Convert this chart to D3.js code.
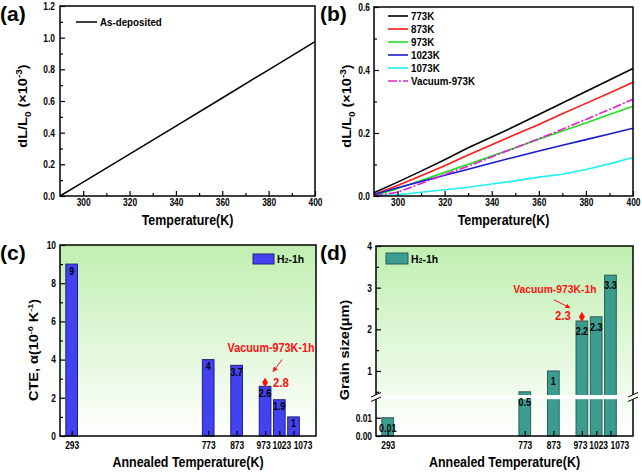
<!DOCTYPE html>
<html><head><meta charset="utf-8">
<script src="https://cdn.jsdelivr.net/npm/d3@7"></script>
<style>
body{margin:0;background:#fff}
text{font-family:"Liberation Sans",Arial,sans-serif;font-weight:bold}
</style>
</head><body>
<svg id="chart" width="642" height="472"></svg>
<script>
// ---------------- DATA ----------------
const tempA = [290, 300, 320, 340, 360, 380, 400];
const asDeposited = [0.0, 0.088, 0.265, 0.441, 0.619, 0.797, 0.975];

const tempB = [290, 300, 310, 320, 330, 340, 350, 360, 370, 380, 390, 400];
const s773 = [0.010, 0.044, 0.079, 0.115, 0.153, 0.187, 0.222, 0.259, 0.295, 0.332, 0.368, 0.405];
const s873 = [0.005, 0.033, 0.064, 0.096, 0.130, 0.163, 0.195, 0.227, 0.261, 0.294, 0.327, 0.361];
const s973 = [0.000, 0.024, 0.049, 0.075, 0.101, 0.127, 0.153, 0.180, 0.206, 0.232, 0.259, 0.285];
const s1023 = [0.005, 0.026, 0.046, 0.066, 0.085, 0.105, 0.124, 0.143, 0.161, 0.179, 0.197, 0.215];
const s1073 = [0.000, 0.004, 0.012, 0.020, 0.028, 0.038, 0.048, 0.060, 0.069, 0.084, 0.102, 0.122];
const sVac973 = [0.000, 0.012, 0.040, 0.068, 0.095, 0.124, 0.153, 0.182, 0.212, 0.243, 0.275, 0.307];
const seriesNamesB = ["773K", "873K", "973K", "1023K", "1073K", "Vacuum-973K"];

const annealTemps = [293, 773, 873, 973, 1023, 1073];
const cteValues = [9, 4, 3.7, 2.6, 1.9, 1];
const grainValues = [0.01, 0.5, 1, 2.2, 2.3, 3.3];
const vacuumTemp = 973;
const vacuumCTE = 2.8;
const vacuumGrain = 2.3;
const vacuumLabel = "Vacuum-973K-1h";

const xTicksTemp = [300, 320, 340, 360, 380, 400];
const xMinorTemp = [310, 330, 350, 370, 390];
const yTicksA = [0, 0.2, 0.4, 0.6, 0.8, 1.0, 1.2];
const yMinorA = [0.1, 0.3, 0.5, 0.7, 0.9, 1.1];
const yTicksB = [0, 0.2, 0.4, 0.6];
const yMinorB = [0.1, 0.3, 0.5];
const yTicksC = [0, 2, 4, 6, 8, 10];
const yMinorC = [1, 3, 5, 7, 9];
const yTicksDLow = [0, 0.01];
const yTicksDHigh = [1, 2, 3, 4];
const yMinorDHigh = [0.5, 1.5, 2.5, 3.5];

// ---------------- HELPERS ----------------
const svg = d3.select("#chart");
const TICK_FS = 10.5, TICK_SQ = 0.8;
// small horizontal nudges of crowded annealing tick labels (as in the original layout)
const crowdNudge = {973: -2, 1023: 2, 1073: 9};
function squeeze(sel, s) {
  sel.each(function () {
    const t = d3.select(this);
    const x = +t.attr("x") || 0;
    t.attr("transform", `translate(${x * (1 - s)},0) scale(${s},1)`);
  });
}
function frame(p) {
  svg.append("rect").attr("x", p.l).attr("y", p.t).attr("width", p.r - p.l).attr("height", p.b - p.t)
    .attr("fill", "none").attr("stroke", "#000").attr("stroke-width", 1.5);
}
function bottomAxis(xs, p, major, minor, fmt, pad, nudge) {
  const g = svg.append("g").attr("transform", `translate(0,${p.b})`)
    .call(d3.axisBottom(xs).tickValues(major).tickFormat(fmt).tickSize(-5).tickSizeOuter(0).tickPadding(pad));
  g.select(".domain").remove();
  g.selectAll("line").attr("stroke-width", 1.2);
  const tx = g.selectAll("text").attr("font-size", TICK_FS).attr("fill", "#000");
  if (nudge) tx.attr("x", d => nudge[d] || 0);
  squeeze(tx, TICK_SQ);
  if (minor) {
    const m = svg.append("g").attr("transform", `translate(0,${p.b})`)
      .call(d3.axisBottom(xs).tickValues(minor).tickFormat("").tickSize(-3).tickSizeOuter(0));
    m.select(".domain").remove();
    m.selectAll("line").attr("stroke-width", 1.2);
  }
}
function leftAxis(ys, p, major, minor, fmt, pad) {
  const g = svg.append("g").attr("transform", `translate(${p.l},0)`)
    .call(d3.axisLeft(ys).tickValues(major).tickFormat(fmt).tickSize(-5).tickSizeOuter(0).tickPadding(pad));
  g.select(".domain").remove();
  g.selectAll("line").attr("stroke-width", 1.2);
  g.selectAll("text").attr("font-size", TICK_FS).attr("fill", "#000");
  squeeze(g.selectAll("text"), TICK_SQ);
  if (minor) {
    const m = svg.append("g").attr("transform", `translate(${p.l},0)`)
      .call(d3.axisLeft(ys).tickValues(minor).tickFormat("").tickSize(-3).tickSizeOuter(0));
    m.select(".domain").remove();
    m.selectAll("line").attr("stroke-width", 1.2);
  }
}
function xTitle(text, cx, y) {
  const t = svg.append("text").attr("x", cx).attr("y", y).attr("text-anchor", "middle")
    .attr("font-size", 15).text(text);
  squeeze(t, 0.83);
}
function yTitle(cx, cy, build) {
  const g = svg.append("g").attr("transform", `translate(${cx},${cy})`);
  const t = g.append("text").attr("text-anchor", "middle").attr("font-size", 14.5)
    .attr("transform", "scale(0.88,1) rotate(-90)");
  build(t);
}
function panelLabel(txt, x, y) {
  svg.append("text").attr("x", x).attr("y", y).attr("font-size", 21).text(txt);
}
const defs = svg.append("defs");
const grad = defs.append("linearGradient").attr("id", "bg").attr("x1", 0).attr("y1", 0).attr("x2", 0).attr("y2", 1);
grad.append("stop").attr("offset", "0%").attr("stop-color", "#c0efb0");
grad.append("stop").attr("offset", "100%").attr("stop-color", "#ffffff");
defs.append("marker").attr("id", "ah").attr("viewBox", "0 0 10 10").attr("refX", 9).attr("refY", 5)
  .attr("markerWidth", 5).attr("markerHeight", 5).attr("orient", "auto")
  .append("path").attr("d", "M0,0L10,5L0,10z").attr("fill", "#ff1010");

// ---------------- PANEL A ----------------
const pa = {l: 60, r: 315, t: 6, b: 196};
const xa = d3.scaleLinear().domain([290, 400]).range([pa.l, pa.r]);
const ya = d3.scaleLinear().domain([0, 1.2]).range([pa.b, pa.t]);
svg.append("path").datum(asDeposited)
  .attr("d", d3.line().x((d, i) => xa(tempA[i])).y(d => ya(d)))
  .attr("fill", "none").attr("stroke", "#000").attr("stroke-width", 1.5);
bottomAxis(xa, pa, xTicksTemp, xMinorTemp, d3.format("d"), 3);
leftAxis(ya, pa, yTicksA, yMinorA, d3.format(".1f"), 5);
frame(pa);
svg.append("line").attr("x1", 76).attr("x2", 97).attr("y1", 22).attr("y2", 22).attr("stroke", "#000").attr("stroke-width", 1.5);
squeeze(svg.append("text").attr("x", 100).attr("y", 26).attr("font-size", 11.5).text("As-deposited"), 0.85);
xTitle("Temperature(K)", (pa.l + pa.r) / 2, 225);
yTitle(27, 106, t => {
  t.append("tspan").text("dL/L");
  t.append("tspan").attr("font-size", 10).attr("dy", 4).text("0");
  t.append("tspan").attr("dy", -4).text(" (×10");
  t.append("tspan").attr("font-size", 10).attr("dy", -6).text("-3");
  t.append("tspan").attr("dy", 6).text(")");
});
panelLabel("(a)", 0, 21);

// ---------------- PANEL B ----------------
const pb = {l: 374, r: 633, t: 7, b: 196};
const xb = d3.scaleLinear().domain([290, 400]).range([pb.l, pb.r]);
const yb = d3.scaleLinear().domain([0, 0.6]).range([pb.b, pb.t]);
const seriesB = [s773, s873, s973, s1023, s1073, sVac973];
const colorsB = ["#000000", "#ff1a1a", "#22dd22", "#1a1ad0", "#20f0f0", "#e020d0"];
const dashB = [null, null, null, null, null, "9,2,2,2"];
const lineB = d3.line().x((d, i) => xb(tempB[i])).y(d => yb(d));
seriesB.forEach((s, k) => {
  svg.append("path").datum(s).attr("d", lineB).attr("fill", "none")
    .attr("stroke", colorsB[k]).attr("stroke-width", 1.6).attr("stroke-dasharray", dashB[k]);
});
bottomAxis(xb, pb, xTicksTemp, xMinorTemp, d3.format("d"), 3);
leftAxis(yb, pb, yTicksB, yMinorB, d3.format(".1f"), 4);
frame(pb);
seriesNamesB.forEach((n, k) => {
  const y = 16 + k * 13;
  svg.append("line").attr("x1", 388).attr("x2", 408).attr("y1", y).attr("y2", y)
    .attr("stroke", colorsB[k]).attr("stroke-width", 1.6).attr("stroke-dasharray", dashB[k]);
  squeeze(svg.append("text").attr("x", 411).attr("y", y + 4).attr("font-size", 11.5).text(n), 0.85);
});
xTitle("Temperature(K)", (pb.l + pb.r) / 2, 225);
yTitle(351, 106, t => {
  t.append("tspan").text("dL/L");
  t.append("tspan").attr("font-size", 10).attr("dy", 4).text("0");
  t.append("tspan").attr("dy", -4).text(" (×10");
  t.append("tspan").attr("font-size", 10).attr("dy", -6).text("-3");
  t.append("tspan").attr("dy", 6).text(")");
});
panelLabel("(b)", 320, 21);

// ---------------- PANEL C ----------------
const pc = {l: 60, r: 316, t: 245, b: 436};
const xc = d3.scaleLinear().domain([252, 1152]).range([pc.l, pc.r]);
const yc = d3.scaleLinear().domain([0, 10]).range([pc.b, pc.t]);
svg.append("rect").attr("x", pc.l).attr("y", pc.t).attr("width", pc.r - pc.l).attr("height", pc.b - pc.t).attr("fill", "url(#bg)");
const halfW = 20.5;
svg.append("g").selectAll("rect").data(cteValues).join("rect")
  .attr("x", (d, i) => xc(annealTemps[i] - halfW))
  .attr("width", (d, i) => xc(annealTemps[i] + halfW) - xc(annealTemps[i] - halfW))
  .attr("y", d => yc(d)).attr("height", d => yc(0) - yc(d))
  .attr("fill", "#4242f0").attr("stroke", "#20207a").attr("stroke-width", 1);
const lc = svg.append("g").selectAll("text").data(cteValues).join("text")
  .attr("x", (d, i) => xc(annealTemps[i])).attr("y", d => yc(d) + 10.5)
  .attr("text-anchor", "middle").attr("font-size", 10.5).text(d => d);
squeeze(lc, 0.85);
bottomAxis(xc, pc, annealTemps, null, d3.format("d"), 6, crowdNudge);
leftAxis(yc, pc, yTicksC, yMinorC, d3.format("d"), 4);
frame(pc);
{
  const mx = xc(vacuumTemp), my = yc(vacuumCTE);
  svg.append("path").attr("transform", `translate(${mx},${my})`)
    .attr("d", d3.symbol().type(d3.symbolDiamond).size(30)).attr("fill", "#ff1010");
  svg.append("line").attr("x1", mx + 17).attr("y1", my - 23).attr("x2", mx + 8).attr("y2", my - 11)
    .attr("stroke", "#ff1010").attr("stroke-width", 1).attr("marker-end", "url(#ah)");
  squeeze(svg.append("text").attr("x", mx + 6).attr("y", my - 31).attr("text-anchor", "middle")
    .attr("font-size", 12).attr("fill", "#ff1010").text(vacuumLabel), 0.9);
  squeeze(svg.append("text").attr("x", mx + 8).attr("y", my + 4).attr("font-size", 12)
    .attr("fill", "#ff1010").text(vacuumCTE), 0.95);
}
svg.append("rect").attr("x", 253).attr("y", 254).attr("width", 21).attr("height", 10)
  .attr("fill", "#4242f0").attr("stroke", "#20207a");
{
  const t = svg.append("text").attr("x", 277).attr("y", 263.5).attr("font-size", 11.5);
  t.append("tspan").text("H");
  t.append("tspan").attr("font-size", 8).text("2");
  t.append("tspan").text("-1h");
  squeeze(t, 0.9);
}
xTitle("Annealed Temperature(K)", (pc.l + pc.r) / 2, 467);
yTitle(38, 350, t => {
  t.append("tspan").text("CTE, α(10");
  t.append("tspan").attr("font-size", 9).attr("dy", -6).text("-6");
  t.append("tspan").attr("dy", 6).text(" K");
  t.append("tspan").attr("font-size", 9).attr("dy", -6).text("-1");
  t.append("tspan").attr("dy", 6).text(")");
});
panelLabel("(c)", 0, 260);

// ---------------- PANEL D ----------------
const pd = {l: 376, r: 633, t: 246, b: 436};
const breakLo = 0.0208, breakHi = 0.38, breakY1 = 398, breakY2 = 396.8;
const xd = d3.scaleLinear().domain([252, 1152]).range([pd.l, pd.r]);
const ydLo = d3.scaleLinear().domain([0, breakLo]).range([pd.b, breakY1]);
const ydHi = d3.scaleLinear().domain([breakHi, 4]).range([breakY2, pd.t]);
const yd = v => (v >= breakHi ? ydHi(v) : ydLo(v));
svg.append("rect").attr("x", pd.l).attr("y", pd.t).attr("width", pd.r - pd.l).attr("height", pd.b - pd.t).attr("fill", "url(#bg)");
svg.append("g").selectAll("rect").data(grainValues).join("rect")
  .attr("x", (d, i) => xd(annealTemps[i] - halfW))
  .attr("width", (d, i) => xd(annealTemps[i] + halfW) - xd(annealTemps[i] - halfW))
  .attr("y", d => yd(d)).attr("height", d => pd.b - yd(d))
  .attr("fill", "#3b9c90").attr("stroke", "#2a5d58").attr("stroke-width", 1);
svg.append("rect").attr("x", pd.l).attr("y", 395).attr("width", pd.r - pd.l).attr("height", 4.2).attr("fill", "#fff");
const ld = svg.append("g").selectAll("text").data(grainValues).join("text")
  .attr("x", (d, i) => xd(annealTemps[i])).attr("y", d => yd(d) + 14)
  .attr("text-anchor", "middle").attr("font-size", 10.5).text(d => d);
squeeze(ld, 0.85);
bottomAxis(xd, pd, annealTemps, null, d3.format("d"), 6, crowdNudge);
leftAxis(ydLo, pd, yTicksDLow, null, d3.format(".2f"), 4);
leftAxis(ydHi, pd, yTicksDHigh, yMinorDHigh, d3.format("d"), 4);
frame(pd);
[pd.l, pd.r].forEach(x => {
  svg.append("rect").attr("x", x - 4).attr("y", 395).attr("width", 8).attr("height", 4.2).attr("fill", "#fff");
  svg.append("line").attr("x1", x - 5).attr("y1", 397).attr("x2", x + 5).attr("y2", 392.5).attr("stroke", "#000").attr("stroke-width", 1);
  svg.append("line").attr("x1", x - 5).attr("y1", 401.5).attr("x2", x + 5).attr("y2", 397).attr("stroke", "#000").attr("stroke-width", 1);
});
{
  const mx = xd(vacuumTemp), my = yd(vacuumGrain);
  svg.append("path").attr("transform", `translate(${mx},${my})`)
    .attr("d", d3.symbol().type(d3.symbolDiamond).size(30)).attr("fill", "#ff1010");
  svg.append("line").attr("x1", mx - 28).attr("y1", my - 17).attr("x2", mx - 12).attr("y2", my - 9)
    .attr("stroke", "#ff1010").attr("stroke-width", 1).attr("marker-end", "url(#ah)");
  squeeze(svg.append("text").attr("x", mx - 27).attr("y", my - 24).attr("text-anchor", "middle")
    .attr("font-size", 11.5).attr("fill", "#ff1010").text(vacuumLabel), 0.9);
  squeeze(svg.append("text").attr("x", mx - 11).attr("y", my + 3.5).attr("text-anchor", "end").attr("font-size", 12)
    .attr("fill", "#ff1010").text(vacuumGrain), 0.95);
}
svg.append("rect").attr("x", 386).attr("y", 253).attr("width", 22).attr("height", 11)
  .attr("fill", "#3b9c90").attr("stroke", "#2a5d58");
{
  const t = svg.append("text").attr("x", 411).attr("y", 263.5).attr("font-size", 11.5);
  t.append("tspan").text("H");
  t.append("tspan").attr("font-size", 8).text("2");
  t.append("tspan").text("-1h");
  squeeze(t, 0.9);
}
xTitle("Annealed Temperature(K)", (pd.l + pd.r) / 2, 467);
yTitle(349, 350, t => { t.text("Grain size(μm)"); });
panelLabel("(d)", 320, 260);
</script>
</body></html>
